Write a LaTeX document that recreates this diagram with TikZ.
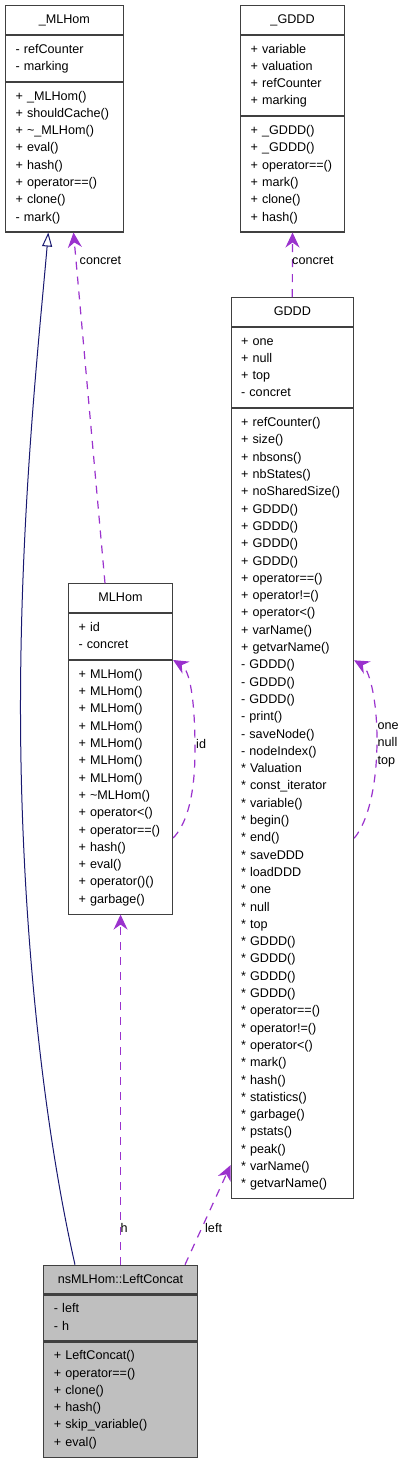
\documentclass[tikz,border=0pt]{standalone}
\usepackage{fontspec}
\setmainfont{Liberation Sans}
\usetikzlibrary{positioning,arrows.meta,calc}
\definecolor{dorchid}{HTML}{9A32CD}
\definecolor{navyline}{HTML}{191970}
\newcommand{\rowstart}{\hyphenpenalty=10000\relax\strut}
\begin{document}
\begin{tikzpicture}[x=1pt, y=-1pt, font=\fontsize{12.6}{17.3}\selectfont,
  cls/.style={draw=black!75, line width=1.1pt, anchor=north west, align=left,
              inner xsep=10pt, inner ysep=0pt,
              execute at begin node=\rowstart, execute at end node=\strut},
  ttl/.style={cls, align=center, minimum height=28.6pt},
  row2/.style={cls, minimum height=45.9pt},
  row4/.style={cls, minimum height=80.5pt},
  row6/.style={cls, minimum height=115.1pt},
  row8/.style={cls, minimum height=149.7pt},
  gray/.style={fill=black!25},
  dep/.style={draw=dorchid, line width=1.2pt, dash pattern=on 8pt off 7pt,
              -{Stealth[length=15pt, width=14pt, inset=5pt]}},
  inh/.style={draw=navyline, line width=1pt,
              -{Triangle[open, length=14pt, width=10pt]}},
  lbl/.style={anchor=west, inner sep=0pt, align=left,
              execute at begin node=\strut, execute at end node=\strut}]
\useasboundingbox (0,0) rectangle (404,1459);
% _MLHom
\node[ttl, text width=97.7pt] (baseT) at (5,5) {\_MLHom};
\node[row2, text width=97.7pt] (baseA) at (baseT.south west) {- refCounter\\- marking};
\node[row8, text width=97.7pt] (baseM) at (baseA.south west) {+ \_MLHom()\\+ shouldCache()\\+ \textasciitilde\_MLHom()\\+ eval()\\+ hash()\\+ operator==()\\+ clone()\\- mark()};
% _GDDD
\node[ttl, text width=84pt] (gbT) at (240,5) {\_GDDD};
\node[row4, text width=84pt] (gbA) at (gbT.south west) {+ variable\\+ valuation\\+ refCounter\\+ marking};
\node[row6, text width=84pt] (gbM) at (gbA.south west) {+ \_GDDD()\\+ \_GDDD()\\+ operator==()\\+ mark()\\+ clone()\\+ hash()};
% GDDD
\node[ttl, text width=102.5pt] (gdT) at (230.5,297) {GDDD};
\node[row4, text width=102.5pt] (gdA) at (gdT.south west) {+ one\\+ null\\+ top\\- concret};
\node[cls, minimum height=789.8pt, text width=102.5pt] (gdM) at (gdA.south west) {+ refCounter()\\+ size()\\+ nbsons()\\+ nbStates()\\+ noSharedSize()\\+ GDDD()\\+ GDDD()\\+ GDDD()\\+ GDDD()\\+ operator==()\\+ operator!=()\\+ operator<()\\+ varName()\\+ getvarName()\\- GDDD()\\- GDDD()\\- GDDD()\\- print()\\- saveNode()\\- nodeIndex()\\{}* Valuation\\{}* const\_iterator\\{}* variable()\\{}* begin()\\{}* end()\\{}* saveDDD\\{}* loadDDD\\{}* one\\{}* null\\{}* top\\{}* GDDD()\\{}* GDDD()\\{}* GDDD()\\{}* GDDD()\\{}* operator==()\\{}* operator!=()\\{}* operator<()\\{}* mark()\\{}* hash()\\{}* statistics()\\{}* garbage()\\{}* pstats()\\{}* peak()\\{}* varName()\\{}* getvarName()};
% MLHom
\node[ttl, text width=84pt] (mlT) at (68,583.3) {MLHom};
\node[row2, text width=84pt] (mlA) at (mlT.south west) {+ id\\- concret};
\node[cls, minimum height=253.5pt, text width=84pt] (mlM) at (mlA.south west) {+ MLHom()\\+ MLHom()\\+ MLHom()\\+ MLHom()\\+ MLHom()\\+ MLHom()\\+ MLHom()\\+ \textasciitilde MLHom()\\+ operator<()\\+ operator==()\\+ hash()\\+ eval()\\+ operator()()\\+ garbage()};
% nsMLHom::LeftConcat
\node[ttl, gray, text width=133.4pt] (lcT) at (43.3,1264.7) {nsMLHom::LeftConcat};
\node[row2, gray, text width=133.4pt] (lcA) at (lcT.south west) {- left\\- h};
\node[row6, gray, text width=133.4pt] (lcM) at (lcA.south west) {+ LeftConcat()\\+ operator==()\\+ clone()\\+ hash()\\+ skip\_variable()\\+ eval()};
% connectors
\draw[inh] ([xshift=31.7pt]lcT.north west) .. controls (40,1110) and (20,900) .. (20.5,700)
  .. controls (21,500) and (40,330) .. ([xshift=43.3pt]baseM.south west);
\draw[dep] ([xshift=37pt]mlT.north west) -- ([xshift=68.5pt]baseM.south west);
\node[lbl] (cc1) at (79.5,261) {concret};
\draw[dep] (gdT.north) -- (gbM.south);
\node[lbl] (cc2) at (292,261) {concret};
\draw[dep] ($(mlM.north east)+(0,178)$) .. controls (185,826) and (195,800) .. (195,750)
  .. controls (195,700) and (190,670) .. (mlM.north east);
\node[lbl] (idl) at (196,745.5) {id};
\draw[dep] ($(gdM.north east)+(0,430)$) .. controls (368,822) and (377,785) .. (377,740)
  .. controls (377,695) and (368,668) .. ($(gdM.north east)+(0,252)$);
\node[lbl] (ont) at (377.5,746) {one\\null\\top};
\draw[dep] (lcT.north) -- (mlM.south);
\node[lbl] (hl) at (120.5,1229.3) {h};
\draw[dep] ([xshift=141.7pt]lcT.north west) -- ($(gdM.south west)+(0,-34)$);
\node[lbl] (ll) at (205,1229.3) {left};
\end{tikzpicture}
\end{document}
